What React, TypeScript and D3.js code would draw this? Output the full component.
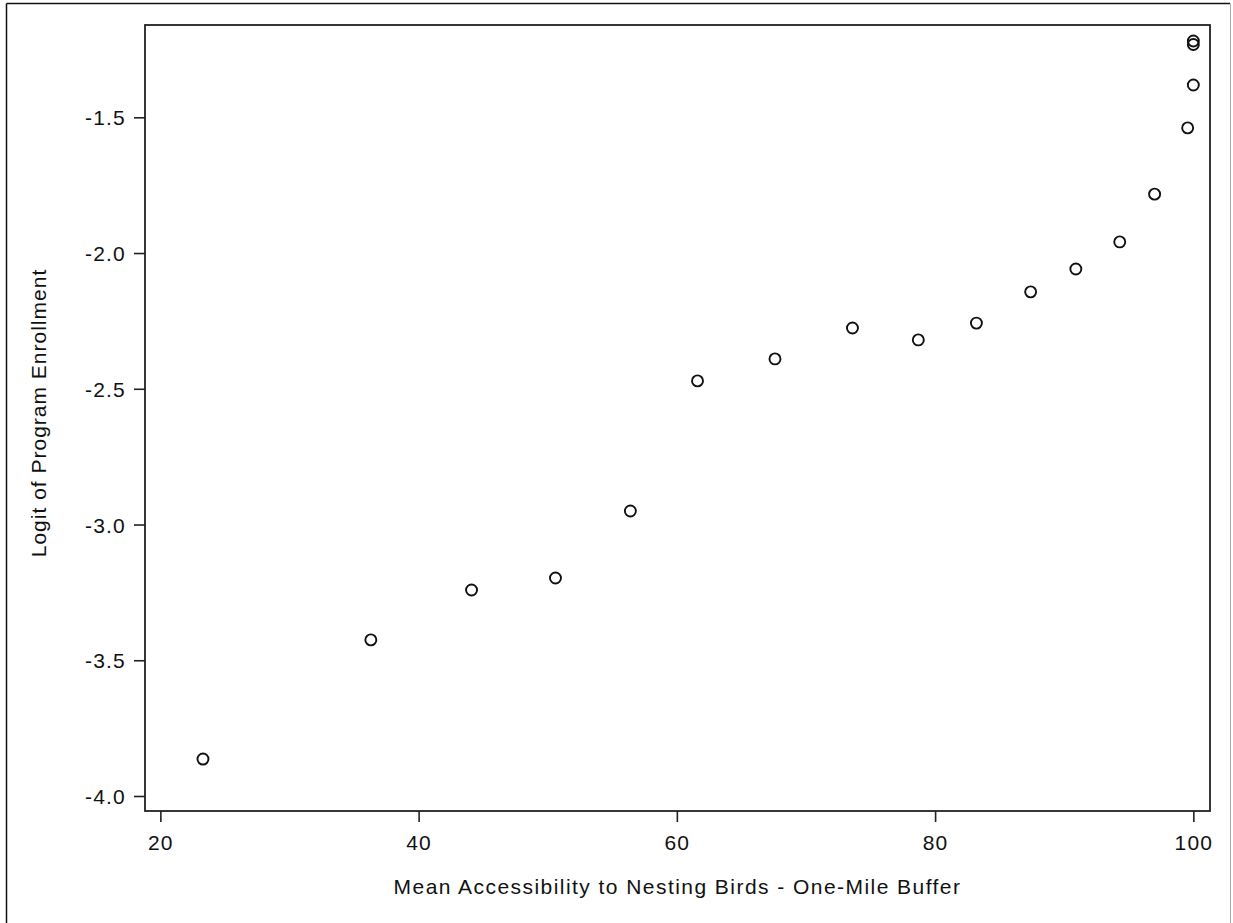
import React, { useEffect, useRef } from "react";
import * as d3 from "d3";

const accessibility = [23.3, 36.3, 44.1, 50.6, 56.4, 61.6, 67.6, 73.6, 78.7, 83.2, 87.4, 90.9, 94.3, 97.0, 99.56, 100.0, 100.0, 100.0];
const logitEnrollment = [-3.864, -3.425, -3.241, -3.197, -2.95, -2.471, -2.39, -2.276, -2.32, -2.258, -2.143, -2.059, -1.959, -1.783, -1.539, -1.381, -1.219, -1.232];
const xTicks = [20, 40, 60, 80, 100];
const yTicks = [-4.0, -3.5, -3.0, -2.5, -2.0, -1.5];
const xTitle = "Mean Accessibility to Nesting Birds - One-Mile Buffer";
const yTitle = "Logit of Program Enrollment";

const W = 1233;
const H = 923;
const L = 145, R = 1210, T = 25, B = 811;
const FONT = "'Liberation Sans', Arial, sans-serif";

export default function App() {
  const ref = useRef<SVGSVGElement | null>(null);

  useEffect(() => {
    const svg = d3.select(ref.current);
    svg.selectAll("*").remove();

    const x = d3.scaleLinear().domain([18.81, 101.29]).range([L, R]);
    const y = d3.scaleLinear().domain([-4.0553, -1.16]).range([B, T]);

    // outer border
    svg.append("line").attr("x1", 6.5).attr("x2", 1230).attr("y1", 3.5).attr("y2", 3.5).attr("stroke", "#111").attr("stroke-width", 1.5);
    svg.append("line").attr("x1", 6.5).attr("x2", 6.5).attr("y1", 3.5).attr("y2", H).attr("stroke", "#111").attr("stroke-width", 1.5);
    svg.append("line").attr("x1", 1230.5).attr("x2", 1230.5).attr("y1", 3.5).attr("y2", H).attr("stroke", "#aaa").attr("stroke-width", 1);

    // frame
    svg.append("rect").attr("x", L).attr("y", T).attr("width", R - L).attr("height", B - T)
      .attr("fill", "none").attr("stroke", "#222").attr("stroke-width", 1.8);

    const fmtX = (d: any) => String(d);
    const fmtY = (d: any) => d3.format(".1f")(d).replace("\u2212", "-");

    const xAxis = d3.axisBottom(x).tickValues(xTicks).tickSize(11).tickPadding(5).tickFormat(fmtX as any);
    const gx = svg.append("g").attr("transform", `translate(0,${B})`).call(xAxis);
    gx.select(".domain").remove();
    gx.selectAll(".tick line").attr("stroke", "#222").attr("stroke-width", 1.6);
    gx.selectAll(".tick text").attr("fill", "#111").attr("font-family", FONT).attr("font-size", 21)
      .attr("letter-spacing", "1.2px").attr("dy", "1.1em");

    const yAxis = d3.axisLeft(y).tickValues(yTicks).tickSize(11).tickPadding(8).tickFormat(fmtY as any);
    const gy = svg.append("g").attr("transform", `translate(${L},0)`).call(yAxis);
    gy.select(".domain").remove();
    gy.selectAll(".tick line").attr("stroke", "#222").attr("stroke-width", 1.6);
    gy.selectAll(".tick text").attr("fill", "#111").attr("font-family", FONT).attr("font-size", 21)
      .attr("letter-spacing", "1.2px").attr("dy", "0.36em");

    svg.append("text").attr("x", (L + R) / 2).attr("y", 894).attr("text-anchor", "middle")
      .attr("font-family", FONT).attr("font-size", 21).attr("letter-spacing", "1.45px").attr("fill", "#111").text(xTitle);

    svg.append("text").attr("transform", `translate(46,${(T + B) / 2 - 5}) rotate(-90)`).attr("text-anchor", "middle")
      .attr("font-family", FONT).attr("font-size", 21).attr("letter-spacing", "1.0px").attr("fill", "#111").text(yTitle);

    const pts = accessibility.map((a, i) => ({ a, l: logitEnrollment[i] }));
    svg.append("g").selectAll("circle").data(pts).join("circle")
      .attr("cx", d => x(d.a)).attr("cy", d => y(d.l)).attr("r", 5.5)
      .attr("fill", "none").attr("stroke", "#111").attr("stroke-width", 1.9);
  }, []);

  return (
    <svg ref={ref} width={W} height={H} style={{ position: "absolute", left: 0, top: 0, background: "#fff" }} />
  );
}
